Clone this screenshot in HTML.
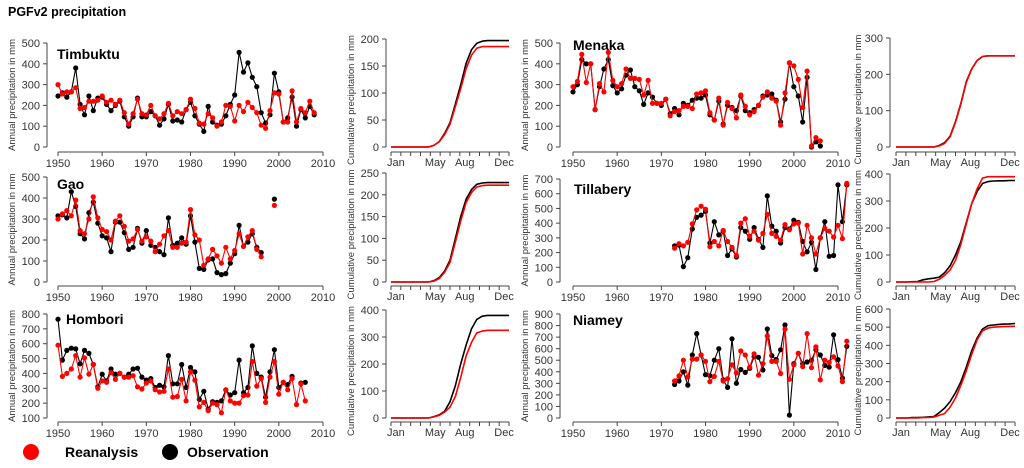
<!DOCTYPE html>
<html><head><meta charset="utf-8"><style>
body{margin:0;background:#fff;}
svg{display:block;font-family:"Liberation Sans",sans-serif;}
.tk{font-size:11px;fill:#333;}
.yt{font-size:9.5px;fill:#333;}
.st{font-size:14px;font-weight:bold;fill:#000;}
</style></head><body>
<svg id="chart" width="1024" height="468" viewBox="0 0 1024 468">
<text x="8" y="16" style="font-size:12.5px;font-weight:bold">PGFv2 precipitation</text>
<g>
<circle cx="31" cy="452" r="8" fill="#f00"></circle>
<text x="65" y="457" style="font-size:14px;font-weight:bold">Reanalysis</text>
<circle cx="170" cy="452" r="8" fill="#000"></circle>
<text x="187" y="457" style="font-size:14px;font-weight:bold">Observation</text>
</g>
</svg>
<script>
const timbuktuObs=[245,260,240,265,380,205,155,245,175,235,240,205,175,200,220,145,100,145,235,145,145,170,150,105,135,205,125,130,120,180,215,150,110,75,195,120,105,110,150,205,250,455,360,405,335,290,165,115,155,355,265,120,140,240,100,180,140,195,155];
const timbuktuRea=[300,255,265,265,285,185,190,220,220,225,245,215,225,205,225,165,110,160,230,160,155,200,150,135,160,210,150,170,160,180,230,185,115,110,160,140,100,120,200,195,125,200,170,215,190,165,105,90,175,260,255,120,120,270,120,185,165,220,165];
const gaoObs=[315,320,305,430,360,230,205,330,380,280,220,210,145,285,285,235,155,165,255,185,245,175,165,145,130,305,175,185,210,180,315,190,65,60,105,110,45,35,40,90,135,270,170,190,230,165,140,null,null,395];
const gaoRea=[300,325,340,315,390,245,230,300,405,305,250,240,200,290,315,265,195,205,250,195,215,195,145,180,220,245,165,165,185,190,345,225,200,80,110,155,125,90,165,110,150,230,170,215,245,155,120,null,null,365];
const homboriObs=[765,490,555,570,565,465,555,535,460,310,395,350,430,395,400,375,395,430,435,375,355,365,305,320,310,520,330,330,460,305,440,410,225,280,160,210,205,215,290,255,270,490,270,305,585,400,375,240,410,560,305,340,325,380,null,335,340];
const homboriRea=[590,380,400,430,520,375,505,395,460,300,350,340,405,360,400,375,375,385,310,295,335,350,290,275,280,430,240,245,360,215,410,355,175,205,150,200,190,135,290,215,200,200,250,255,480,315,365,205,375,480,260,340,290,365,190,330,215];
const menakaObs=[265,300,420,400,400,180,290,375,420,295,260,280,345,370,290,270,205,260,240,210,200,230,160,185,155,210,200,225,235,235,250,155,130,220,110,200,190,175,245,175,165,180,200,245,250,255,225,120,230,405,290,245,120,335,0,25,5];
const menakaRea=[290,315,445,310,400,180,305,265,455,320,290,305,375,330,330,325,250,320,210,210,210,230,150,170,175,195,195,185,255,260,270,165,130,235,105,215,185,140,250,195,155,170,200,240,265,235,220,105,260,405,390,325,190,365,5,45,30];
const tillaberyObs=[245,250,105,165,360,440,455,480,265,410,320,345,180,225,170,370,345,290,370,290,235,585,380,345,265,370,360,420,405,275,205,270,85,300,410,175,180,660,410,660];
const tillaberyRea=[230,260,245,270,395,490,515,495,240,275,245,350,275,235,180,400,430,310,345,285,330,460,330,310,285,390,355,395,400,190,385,300,190,300,365,345,305,385,295,670];
const niameyObs=[290,320,400,285,545,730,545,375,365,500,600,330,265,685,300,420,395,430,530,525,415,770,540,505,590,805,25,470,560,470,485,500,590,545,455,440,720,505,345,620];
const niameyRea=[320,365,500,355,510,510,545,490,315,360,490,320,340,460,390,580,545,440,555,370,470,710,490,490,385,770,335,460,560,445,730,435,615,330,500,480,530,450,315,665];
// cumulative, 23 points at half-month steps (Jan..Dec)
const timbuktuCumObs=[0,0,0,0,0,0,0,0,3,10,25,45,80,115,155,180,192,196,197,197,197,197,197];
const timbuktuCumRea=[0,0,0,0,0,0,0,0,3,10,23,42,75,108,145,170,183,186,186,186,186,186,186];
const gaoCumObs=[0,0,0,0,0,0,0,0,3,10,25,50,100,150,190,212,224,227,228,228,228,228,228];
const gaoCumRea=[0,0,0,0,0,0,0,0,2,8,22,45,92,140,182,205,218,221,222,222,222,222,222];
const homboriCumObs=[0,0,0,0,0,0,0,0,5,12,25,60,120,200,270,330,365,377,380,380,380,380,380];
const homboriCumRea=[0,0,0,0,0,0,0,0,4,10,22,40,80,150,230,280,315,322,325,325,325,325,325];
const menakaCumObs=[0,0,0,0,0,0,0,0,4,12,30,70,120,180,215,238,249,251,251,251,251,251,251];
const menakaCumRea=[0,0,0,0,0,0,0,0,3,10,28,68,118,178,214,238,249,251,251,251,251,251,251];
const tillaberyCumObs=[0,0,0,1,2,8,12,14,18,35,60,100,150,220,290,335,365,372,374,375,375,376,376];
const tillaberyCumRea=[0,0,0,0,0,0,0,2,10,25,45,80,140,215,290,345,385,390,390,390,390,390,390];
const niameyCumObs=[0,0,0,2,3,4,6,8,30,55,90,140,200,280,370,440,490,508,512,515,517,518,520];
const niameyCumRea=[0,0,0,0,0,2,3,5,15,25,60,110,180,260,350,430,480,495,500,502,503,504,505];
const yearTicks=[1950,1960,1970,1980,1990,2000,2010];
const monthLabels=["Jan","May","Aug","Dec"];
const monthLabelIdx=[0,4,7,11];

const NS="http://www.w3.org/2000/svg";
const svg=document.getElementById('chart');
function mk(tag,attrs,parent){const e=document.createElementNS(NS,tag);for(const k in attrs)e.setAttribute(k,attrs[k]);(parent||svg).appendChild(e);return e;}

const stations=[
 {id:'timbuktu',name:'Timbuktu',obs:timbuktuObs,rea:timbuktuRea,start:1950,cObs:timbuktuCumObs,cRea:timbuktuCumRea,
  ax:47,xl:58,xr:323,yTop:43,yBot:147,vmin:0,vmax:500,step:100,axY:152,nx:57,ny:59,yt:12,
  cx:386,cl:391,cr:509,cTop:39,cBot:147,cmax:200,cstep:50,cyt:351},
 {id:'gao',name:'Gao',obs:gaoObs,rea:gaoRea,start:1950,cObs:gaoCumObs,cRea:gaoCumRea,
  ax:47,xl:58,xr:323,yTop:177,yBot:282,vmin:0,vmax:500,step:100,axY:286,nx:57,ny:189,yt:12,
  cx:386,cl:391,cr:509,cTop:173,cBot:282,cmax:250,cstep:50,cyt:351},
 {id:'hombori',name:'Hombori',obs:homboriObs,rea:homboriRea,start:1950,cObs:homboriCumObs,cRea:homboriCumRea,
  ax:47,xl:58,xr:323,yTop:314,yBot:418,vmin:100,vmax:800,step:100,axY:422,nx:66,ny:324,yt:12,
  cx:386,cl:391,cr:509,cTop:310,cBot:418,cmax:400,cstep:100,cyt:351},
 {id:'menaka',name:'Menaka',obs:menakaObs,rea:menakaRea,start:1950,cObs:menakaCumObs,cRea:menakaCumRea,
  ax:560,xl:573,xr:838,yTop:43,yBot:147,vmin:0,vmax:500,step:100,axY:152,nx:573,ny:50,yt:525,
  cx:890,cl:896,cr:1015,cTop:38,cBot:147,cmax:300,cstep:100,cyt:858},
 {id:'tillabery',name:'Tillabery',obs:tillaberyObs,rea:tillaberyRea,start:1973,cObs:tillaberyCumObs,cRea:tillaberyCumRea,
  ax:560,xl:573,xr:838,yTop:179,yBot:282,vmin:0,vmax:700,step:100,axY:286,nx:574,ny:194,yt:525,
  cx:890,cl:896,cr:1015,cTop:174,cBot:282,cmax:400,cstep:100,cyt:858},
 {id:'niamey',name:'Niamey',obs:niameyObs,rea:niameyRea,start:1973,cObs:niameyCumObs,cRea:niameyCumRea,
  ax:560,xl:573,xr:838,yTop:314,yBot:418,vmin:0,vmax:900,step:100,axY:422,nx:573,ny:325,yt:525,
  cx:890,cl:896,cr:1015,cTop:309,cBot:418,cmax:600,cstep:100,cyt:858}
];

function drawSeries(g,vals,fx,fy,color,name){
  let d='',pen=false;
  vals.forEach((v,i)=>{if(v===null){pen=false;return;}d+=(pen?'L':'M')+fx(i).toFixed(1)+' '+fy(v).toFixed(1);pen=true;});
  const p=mk('path',{d:d,fill:'none',stroke:color,'stroke-width':1.1},g);
  
  
  vals.forEach((v,i)=>{if(v===null)return;
    const c=mk('circle',{cx:fx(i).toFixed(1),cy:fy(v).toFixed(1),r:2.6,fill:color},g);
    
    
  });
}

stations.forEach(s=>{
  const g=mk('g',{});
  
  
  const X=y=>s.xl+(y-1950)/60*(s.xr-s.xl);
  const Y=v=>s.yBot-(v-s.vmin)/(s.vmax-s.vmin)*(s.yBot-s.yTop);
  mk('line',{x1:s.ax,x2:s.ax,y1:s.yTop,y2:s.yBot,stroke:'#444'},g);
  for(let v=s.vmin;v<=s.vmax;v+=s.step){
    mk('line',{x1:s.ax-4,x2:s.ax,y1:Y(v),y2:Y(v),stroke:'#444'},g);
    const t=mk('text',{x:s.ax-7,y:Y(v)+4,'text-anchor':'end',class:'tk'},g);t.textContent=v;
    
    
  }
  mk('line',{x1:X(1950),x2:X(2010),y1:s.axY,y2:s.axY,stroke:'#444'},g);
  yearTicks.forEach(yr=>{
    mk('line',{x1:X(yr),x2:X(yr),y1:s.axY,y2:s.axY+4,stroke:'#444'},g);
    const t=mk('text',{x:X(yr),y:s.axY+15,'text-anchor':'middle',class:'tk'},g);t.textContent=yr;
    
    
  });
  const cyMid=(s.yTop+s.yBot)/2;
  const yt=mk('text',{x:s.yt,y:cyMid,'text-anchor':'middle',class:'yt',transform:`rotate(-90 ${s.yt} ${cyMid})`,dy:'3'},g);
  yt.textContent='Annual precipitation in mm';
  
  
  const nm=mk('text',{x:s.nx,y:s.ny,class:'st'},g);nm.textContent=s.name;
  
  
  drawSeries(g,s.obs,i=>X(s.start+i),Y,'#000',s.id+'-observation');
  drawSeries(g,s.rea,i=>X(s.start+i),Y,'#f00',s.id+'-reanalysis');

  const h=mk('g',{});
  
  
  const CX=t=>s.cl+t/11*(s.cr-s.cl);
  const CY=v=>s.cBot-v/s.cmax*(s.cBot-s.cTop);
  mk('line',{x1:s.cx,x2:s.cx,y1:s.cTop,y2:s.cBot,stroke:'#444'},h);
  for(let v=0;v<=s.cmax;v+=s.cstep){
    mk('line',{x1:s.cx-4,x2:s.cx,y1:CY(v),y2:CY(v),stroke:'#444'},h);
    const t=mk('text',{x:s.cx-7,y:CY(v)+4,'text-anchor':'end',class:'tk'},h);t.textContent=v;
    
    
  }
  mk('line',{x1:s.cl,x2:s.cr,y1:s.axY,y2:s.axY,stroke:'#444'},h);
  for(let k=0;k<=12;k++){const x=s.cl+k/12*(s.cr-s.cl);mk('line',{x1:x,x2:x,y1:s.axY,y2:s.axY+4,stroke:'#444'},h);}
  monthLabels.forEach((m,i)=>{
    const x=s.cl+(monthLabelIdx[i]+0.5)/12*(s.cr-s.cl);
    const t=mk('text',{x:x,y:s.axY+14,'text-anchor':'middle',class:'tk'},h);t.textContent=m;
    
    
  });
  const cm=(s.cTop+s.cBot+14)/2;
  const ct=mk('text',{x:s.cyt,y:cm,'text-anchor':'middle',class:'yt',transform:`rotate(-90 ${s.cyt} ${cm})`,dy:'3'},h);
  ct.textContent='Cumulative precipitation in mm';
  
  
  [[s.cObs,'#000','observation'],[s.cRea,'#f00','reanalysis']].forEach(([arr,col,nmx])=>{
    const d=arr.map((v,i)=>(i?'L':'M')+CX(i*0.5).toFixed(1)+' '+CY(v).toFixed(1)).join('');
    const p=mk('path',{d:d,fill:'none',stroke:col,'stroke-width':1.6,'stroke-linejoin':'round'},h);
    
    
  });
});
</script>
</body></html>
